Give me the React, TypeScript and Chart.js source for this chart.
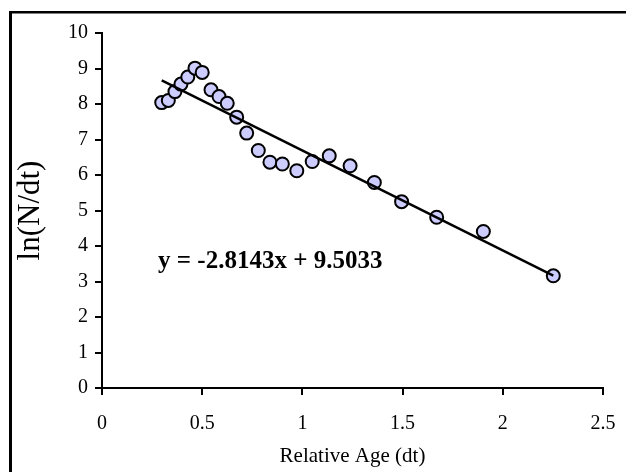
import React, { useEffect, useRef } from "react";
import { Chart, registerables } from "chart.js";

Chart.register(...registerables);

// Relative age (dt) of each observation
const relativeAge: number[] = [
  0.298, 0.331, 0.364, 0.394, 0.428, 0.464, 0.5, 0.544, 0.584, 0.625, 0.672, 0.722,
  0.78, 0.838, 0.9, 0.972, 1.049, 1.134, 1.238, 1.359, 1.495, 1.67, 1.903, 2.252,
];
// ln(N/dt) of each observation
const lnNdt: number[] = [
  8.04, 8.1, 8.35, 8.56, 8.76, 9.01, 8.89, 8.4, 8.21, 8.02, 7.63, 7.18,
  6.69, 6.36, 6.31, 6.12, 6.38, 6.54, 6.26, 5.79, 5.25, 4.81, 4.41, 3.16,
];
// Linear trend line shown on the chart
const trendSlope = -2.8143;
const trendIntercept = 9.5033;
const equationText = "y = -2.8143x + 9.5033";

const xTicks: number[] = [0, 0.5, 1, 1.5, 2, 2.5];
const yTicks: number[] = [0, 1, 2, 3, 4, 5, 6, 7, 8, 9, 10];

const FONT = "'Liberation Serif', 'Times New Roman', serif";

export default function App() {
  const canvasRef = useRef<HTMLCanvasElement | null>(null);

  useEffect(() => {
    document.body.style.margin = "0";
    const canvas = canvasRef.current;
    if (!canvas) return;

    const points = relativeAge.map((x, i) => ({ x, y: lnNdt[i] }));
    const xMin = Math.min(...relativeAge);
    const xMax = Math.max(...relativeAge);
    const trend = [
      { x: xMin, y: trendSlope * xMin + trendIntercept },
      { x: xMax, y: trendSlope * xMax + trendIntercept },
    ];

    const framePlugin = {
      id: "frameAndEquation",
      beforeDraw(chart: any) {
        const ctx = chart.ctx;
        ctx.save();
        ctx.fillStyle = "#ffffff";
        ctx.fillRect(0, 0, chart.width, chart.height);
        ctx.fillStyle = "#000000";
        ctx.fillRect(9, 11, chart.width, 2.5);
        ctx.fillRect(9, 11, 3, chart.height);
        ctx.restore();
      },
      afterDatasetsDraw(chart: any) {
        const ctx = chart.ctx;
        const xs = chart.scales.x;
        const ys = chart.scales.y;
        ctx.save();
        ctx.fillStyle = "#000";
        ctx.font = `bold 25px ${FONT}`;
        ctx.textAlign = "left";
        ctx.textBaseline = "middle";
        ctx.fillText(equationText, xs.getPixelForValue(0.28), ys.getPixelForValue(3.55));
        ctx.restore();
      },
    };

    const chart = new Chart(canvas, {
      type: "scatter",
      data: {
        datasets: [
          {
            type: "line",
            label: "Trend",
            data: trend,
            borderColor: "#000",
            borderWidth: 2.5,
            pointRadius: 0,
            fill: false,
          } as any,
          {
            label: "ln(N/dt)",
            data: points,
            backgroundColor: "#CCCCFF",
            borderColor: "#000",
            borderWidth: 2,
            pointRadius: 6.5,
          },
        ],
      },
      options: {
        animation: false,
        responsive: true,
        maintainAspectRatio: false,
        layout: { padding: { top: 33, right: 23, left: 0, bottom: 0 } },
        plugins: {
          legend: { display: false },
          tooltip: { enabled: false },
        },
        scales: {
          x: {
            type: "linear",
            min: 0,
            max: 2.5,
            afterFit: (s: any) => {
              s.height = 84;
              s.paddingLeft = 0;
              s.paddingRight = 0;
            },
            afterBuildTicks: (s: any) => {
              s.ticks = xTicks.map((v) => ({ value: v }));
            },
            ticks: {
              color: "#000",
              font: { family: FONT, size: 20 },
              padding: 17,
              maxRotation: 0,
              callback: (v: any) => `${v}`,
            },
            grid: {
              drawOnChartArea: false,
              drawTicks: true,
              tickLength: 7,
              color: "#000",
              lineWidth: 2,
            },
            border: { color: "#000", width: 2 },
            title: {
              display: true,
              text: "Relative Age (dt)",
              color: "#000",
              font: { family: FONT, size: 21 },
              padding: { top: 0, bottom: 3 },
            },
          },
          y: {
            type: "linear",
            min: 0,
            max: 10,
            afterFit: (s: any) => {
              s.width = 102;
            },
            afterBuildTicks: (s: any) => {
              s.ticks = yTicks.map((v) => ({ value: v }));
            },
            ticks: {
              color: "#000",
              font: { family: FONT, size: 20 },
              padding: 7,
              callback: (v: any) => `${v}`,
            },
            grid: {
              drawOnChartArea: false,
              drawTicks: true,
              tickLength: 7,
              color: "#000",
              lineWidth: 2,
            },
            border: { color: "#000", width: 2 },
            title: {
              display: true,
              text: "ln(N/dt)",
              color: "#000",
              font: { family: FONT, size: 31 },
              padding: { top: 12, bottom: 0 },
            },
          },
        },
      },
      plugins: [framePlugin],
    });

    return () => chart.destroy();
  }, []);

  return (
    <div style={{ position: "fixed", left: 0, top: 0, width: 626, height: 472 }}>
      <canvas ref={canvasRef} />
    </div>
  );
}
